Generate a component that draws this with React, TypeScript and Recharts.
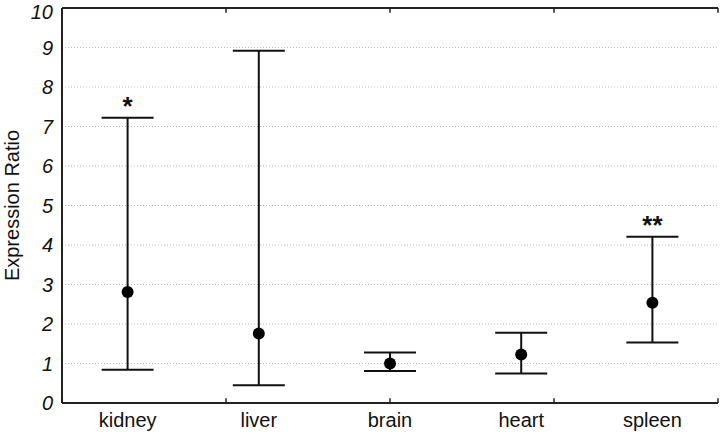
import React from 'react';
import {
  ComposedChart,
  Scatter,
  ErrorBar,
  XAxis,
  YAxis,
  CartesianGrid,
  ReferenceLine,
  LabelList,
} from 'recharts';

const tissues = ['kidney', 'liver', 'brain', 'heart', 'spleen'];
const ratios = [2.81, 1.76, 1.0, 1.23, 2.54];
const lowerBounds = [0.84, 0.45, 0.81, 0.75, 1.53];
const upperBounds = [7.22, 8.92, 1.28, 1.78, 4.21];
const significance = ['*', '', '', '', '**'];
const yTicks = [0, 1, 2, 3, 4, 5, 6, 7, 8, 9, 10];
const categoryEdges = [1, 2, 3, 4];

const chartData = tissues.map((name, i) => ({
  name,
  ratio: ratios[i],
  upper: upperBounds[i],
  sig: significance[i],
  err: [ratios[i] - lowerBounds[i], upperBounds[i] - ratios[i]],
}));

const axisColor = '#222';
const fontFamily = 'Arial, "Liberation Sans", sans-serif';

const App: React.FC = () => {
  return (
    <div style={{ position: 'absolute', left: 0, top: 0, fontFamily }}>
      <ComposedChart
        width={720}
        height={437}
        data={chartData}
        margin={{ top: 8, right: 2, left: 0, bottom: 0 }}
      >
        <CartesianGrid
          vertical={false}
          stroke="#bbb"
          strokeDasharray="1 2"
          horizontalValues={[1, 2, 3, 4, 5, 6, 7, 8, 9]}
        />
        <XAxis
          dataKey="name"
          type="category"
          scale="band"
          height={34}
          tickLine={false}
          tickSize={6}
          tickMargin={4}
          axisLine={{ stroke: axisColor, strokeWidth: 2 }}
          tick={{ fill: '#111', fontSize: 20, fontFamily }}
        />
        <XAxis xAxisId="edges" type="number" domain={[0, 5]} hide />
        <YAxis
          domain={[0, 10]}
          ticks={yTicks}
          width={62}
          tickLine={false}
          tickSize={6}
          tickMargin={3}
          axisLine={{ stroke: axisColor, strokeWidth: 2 }}
          tick={{ fill: '#111', fontSize: 20, fontStyle: 'italic', fontFamily }}
          label={{
            value: 'Expression Ratio',
            angle: -90,
            position: 'center',
            dx: -19,
            fill: '#111',
            fontSize: 20,
            fontFamily,
          }}
        />
        <YAxis
          yAxisId="right"
          orientation="right"
          domain={[0, 10]}
          ticks={yTicks}
          width={0}
          mirror
          tick={false}
          tickSize={4}
          tickLine={{ stroke: axisColor, strokeWidth: 1.5 }}
          axisLine={{ stroke: axisColor, strokeWidth: 2 }}
        />
        <ReferenceLine y={10} stroke={axisColor} strokeWidth={2} />
        {categoryEdges.map((e) => (
          <ReferenceLine
            key={`b${e}`}
            xAxisId="edges"
            segment={[{ x: e, y: 0 }, { x: e, y: 0.12 }]}
            stroke={axisColor}
            strokeWidth={1.5}
          />
        ))}
        {categoryEdges.map((e) => (
          <ReferenceLine
            key={`t${e}`}
            xAxisId="edges"
            segment={[{ x: e, y: 10 }, { x: e, y: 9.88 }]}
            stroke={axisColor}
            strokeWidth={1.5}
          />
        ))}
        <Scatter dataKey="ratio" fill="#000" isAnimationActive={false} shape={(p: any) => (
          <circle cx={p.cx} cy={p.cy} r={6} fill="#000" />
        )}>
          <ErrorBar dataKey="err" direction="y" width={26} stroke="#111" strokeWidth={2} />
        </Scatter>
        <Scatter dataKey="upper" isAnimationActive={false} shape={() => <g />}>
          <LabelList
            dataKey="sig"
            position="top"
            offset={-2}
            fill="#111"
            fontSize={26}
            fontWeight="bold"
            fontFamily={fontFamily}
          />
        </Scatter>
      </ComposedChart>
    </div>
  );
};

export default App;
